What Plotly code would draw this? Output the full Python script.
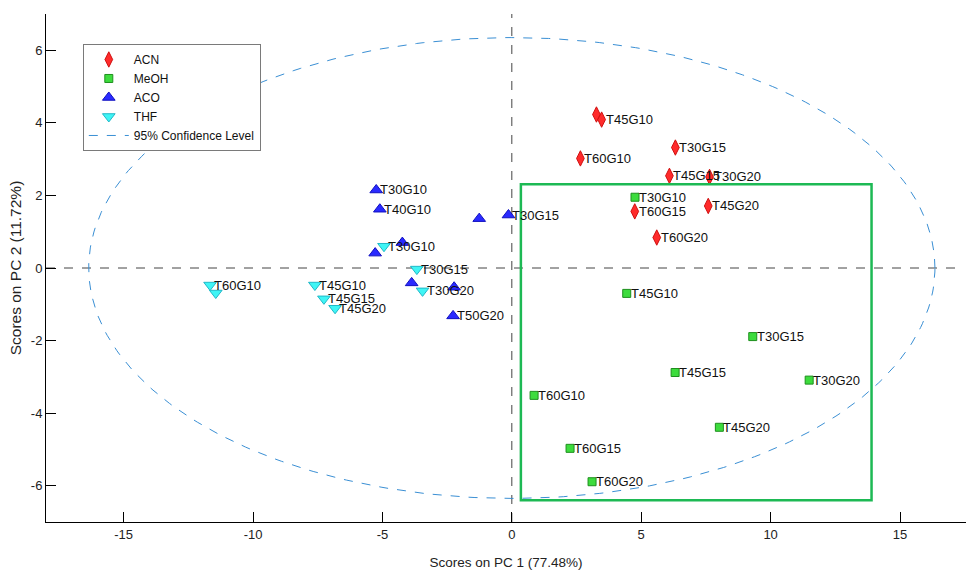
import numpy as np
import plotly.graph_objects as go

# ---- data ----
acn_x = [3.27, 3.47, 2.65, 6.32, 6.09, 7.64, 7.59, 4.75, 5.60]
acn_y = [4.23, 4.09, 3.02, 3.32, 2.54, 2.51, 1.71, 1.56, 0.84]
acn_lbl = ["", "T45G10", "T60G10", "T30G15", "T45G15", "T30G20", "T45G20", "T60G15", "T60G20"]

meoh_x = [4.76, 4.44, 9.31, 6.31, 11.49, 0.86, 8.02, 2.25, 3.10]
meoh_y = [1.95, -0.70, -1.89, -2.88, -3.09, -3.51, -4.39, -4.97, -5.89]
meoh_lbl = ["T30G10", "T45G10", "T30G15", "T45G15", "T30G20", "T60G10", "T45G20", "T60G15", "T60G20"]

aco_x = [-5.24, -5.10, -1.26, -0.13, -4.23, -5.28, -3.87, -2.23, -2.27]
aco_y = [2.15, 1.62, 1.36, 1.46, 0.70, 0.41, -0.41, -0.53, -1.32]
aco_lbl = ["T30G10", "T40G10", "", "T30G15", "", "", "", "", "T50G20"]

thf_x = [-11.66, -11.44, -4.94, -3.67, -7.61, -7.26, -6.83, -3.45]
thf_y = [-0.47, -0.69, 0.60, -0.03, -0.47, -0.85, -1.11, -0.63]
thf_lbl = ["T60G10", "", "T30G10", "T30G15", "T45G10", "T45G15", "T45G20", "T30G20"]

ellipse_a = 16.35   # semi-axis on PC1
ellipse_b = 6.35    # semi-axis on PC2
box_x = [0.35, 13.9]
box_y = [-6.4, 2.31]

x_ticks = [-15, -10, -5, 0, 5, 10, 15]
y_ticks = [-6, -4, -2, 0, 2, 4, 6]

# ---- figure ----
fig = go.Figure()
FONT = "Arial, Liberation Sans, sans-serif"
lbl_font = dict(family=FONT, size=13, color="#111")

series = [
    ("ACN", acn_x, acn_y, acn_lbl,
     dict(symbol="diamond-tall", size=11, color="#ff2b2b", line=dict(color="#d01010", width=1))),
    ("MeOH", meoh_x, meoh_y, meoh_lbl,
     dict(symbol="square", size=8, color="#3ddc3d", line=dict(color="#1e8f1e", width=1))),
    ("ACO", aco_x, aco_y, aco_lbl,
     dict(symbol="triangle-up", size=11, color="#2a2aff", line=dict(color="#1010c0", width=1))),
    ("THF", thf_x, thf_y, thf_lbl,
     dict(symbol="triangle-down", size=11, color="#3ff5f5", line=dict(color="#20b8c8", width=1))),
]

annotations = []
for name, xs, ys, lbls, mk in series:
    fig.add_trace(go.Scatter(x=xs, y=ys, mode="markers", name=name, text=lbls, marker=mk))
    for xv, yv, lb in zip(xs, ys, lbls):
        if lb:
            annotations.append(dict(x=xv, y=yv, xref="x", yref="y", text=lb, showarrow=False,
                                    xanchor="left", yanchor="middle", xshift=3,
                                    font=lbl_font, borderpad=0))

t = np.linspace(0, 2 * np.pi, 361)
fig.add_trace(go.Scatter(x=ellipse_a * np.cos(t), y=ellipse_b * np.sin(t), mode="lines",
                         name="95% Confidence Level", hoverinfo="skip",
                         line=dict(color="#3a8fd4", width=1, dash="dash")))

# zero lines
fig.add_shape(type="line", xref="x", yref="paper", x0=0, x1=0, y0=0, y1=1,
              line=dict(color="#444", width=1, dash="dash"), layer="below")
fig.add_shape(type="line", xref="paper", yref="y", x0=0, x1=0.996, y0=0, y1=0,
              line=dict(color="#444", width=1, dash="dash"), layer="below")
# highlight box
fig.add_shape(type="rect", xref="x", yref="y", x0=box_x[0], x1=box_x[1], y0=box_y[0], y1=box_y[1],
              line=dict(color="#1db954", width=2.5), fillcolor="rgba(0,0,0,0)")

fig.update_layout(
    width=966, height=570,
    margin=dict(l=46, r=0, t=14, b=48),
    paper_bgcolor="white", plot_bgcolor="white",
    font=dict(family=FONT, size=13, color="#222"),
    showlegend=True,
    annotations=annotations,
    legend=dict(x=0.04, y=0.941, xanchor="left", yanchor="top",
                bordercolor="#7a7a7a", borderwidth=1, bgcolor="white",
                font=dict(family=FONT, size=12, color="#111"),
                tracegroupgap=0, itemwidth=40),
    xaxis=dict(range=[-18.0, 17.55], tickvals=x_ticks, ticktext=[str(v) for v in x_ticks],
               showgrid=False, zeroline=False, showline=True, linecolor="black", linewidth=1,
               ticks="inside", ticklen=10, tickcolor="black", mirror=False,
               tickfont=dict(family=FONT, size=13, color="#222"),
               title=dict(text="Scores on PC 1 (77.48%)", standoff=16,
                          font=dict(family=FONT, size=13.5, color="#222"))),
    yaxis=dict(range=[-7.0, 7.0], tickvals=y_ticks, ticktext=[str(v) for v in y_ticks],
               showgrid=False, zeroline=False, showline=True, linecolor="black", linewidth=1,
               ticks="inside", ticklen=10, tickcolor="black", mirror=False,
               tickfont=dict(family=FONT, size=13, color="#222"),
               title=dict(text="Scores on PC 2 (11.72%)", standoff=5,
                          font=dict(family=FONT, size=15.5, color="#222"))),
)

fig.write_html("out.html")
